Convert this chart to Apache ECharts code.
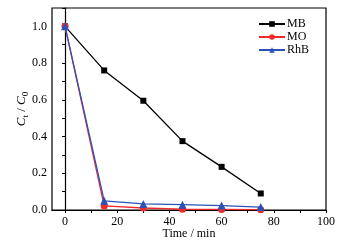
<!DOCTYPE html>
<html>
<head>
<meta charset="utf-8">
<script src="https://cdn.jsdelivr.net/npm/echarts@6/dist/echarts.min.js"></script>
<style>
  html, body { margin: 0; padding: 0; background: #fff; }
  #chart { width: 349px; height: 244px; }
</style>
</head>
<body>
<div id="chart"></div>
<script>
var times = [0, 15, 30, 45, 60, 75];
var mb = [1.0, 0.76, 0.595, 0.375, 0.235, 0.09];
var mo = [1.0, 0.022, 0.011, 0.004, 0.003, 0.002];
var rhb = [1.0, 0.05, 0.033, 0.029, 0.024, 0.016];
var xTicks = [0, 10, 20, 30, 40, 50, 60, 70, 80, 90, 100];
var xLabels = [0, 20, 40, 60, 80, 100];

function pairs(ys) {
    return times.map(function (t, i) { return [t, ys[i]]; });
}

var font = 'Liberation Serif';
var chart = echarts.init(document.getElementById('chart'));

function mkSeries(name, data, color, symbol, size) {
    return {
        name: name,
        type: 'line',
        data: pairs(data),
        symbol: symbol,
        symbolSize: size,
        showAllSymbol: true,
        lineStyle: { color: color, width: 1.3 },
        itemStyle: { color: color },
        z: name == 'MB' ? 2 : (name == 'MO' ? 3 : 4)
    };
}

chart.setOption({
    animation: false,
    textStyle: { fontFamily: font },
    grid: {
        left: 52, right: 23, top: 8, bottom: 34,
        show: true, borderColor: '#000', borderWidth: 1.2,
        containLabel: false,
        outerBoundsMode: 'none'
    },
    legend: {
        orient: 'vertical',
        right: 35, top: 13,
        itemWidth: 26, itemHeight: 7, itemGap: 1,
        textStyle: { fontFamily: font, fontSize: 12, color: '#000', padding: [0, 0, 0, -3] },
        data: ['MB', 'MO', 'RhB']
    },
    xAxis: {
        type: 'value',
        min: -5, max: 100,
        interval: 5,
        name: 'Time / min',
        nameLocation: 'middle',
        nameGap: 18,
        nameMoveOverlap: false,
        nameTextStyle: { fontFamily: font, fontSize: 12, color: '#000' },
        axisLine: { onZero: false, lineStyle: { color: '#000', width: 1.2 } },
        axisTick: { show: true, length: 3, customValues: xTicks, lineStyle: { color: '#000' } },
        axisLabel: {
            fontFamily: font, fontSize: 12, color: '#000', margin: 6,
            customValues: xLabels
        },
        splitLine: { show: false }
    },
    yAxis: {
        type: 'value',
        min: 0, max: 1.1,
        interval: 0.1,
        name: '{i|C}{s|t}{n| / }{i|C}{s|0}',
        nameLocation: 'middle',
        nameGap: 22,
        nameMoveOverlap: false,
        nameTextStyle: {
            rich: {
                i: { fontFamily: font, fontStyle: 'italic', fontSize: 13, color: '#000' },
                s: { fontFamily: font, fontSize: 9, color: '#000', verticalAlign: 'bottom', padding: [8, 0, 0, 0] },
                n: { fontFamily: font, fontSize: 13, color: '#000' }
            }
        },
        axisLine: { show: true, lineStyle: { color: '#000', width: 1.2 } },
        axisTick: { show: true, length: 3, lineStyle: { color: '#000' } },
        axisLabel: {
            fontFamily: font, fontSize: 12, color: '#000', margin: 5,
            formatter: function (v) {
                var r = Math.round(v * 10);
                return r % 2 === 0 ? (r / 10).toFixed(1) : '';
            }
        },
        splitLine: { show: false }
    },
    series: [
        mkSeries('MB', mb, '#000000', 'rect', 6),
        mkSeries('MO', mo, '#ee2a2a', 'circle', 7),
        mkSeries('RhB', rhb, '#2a52b8', 'triangle', 8)
    ]
});
</script>
</body>
</html>
